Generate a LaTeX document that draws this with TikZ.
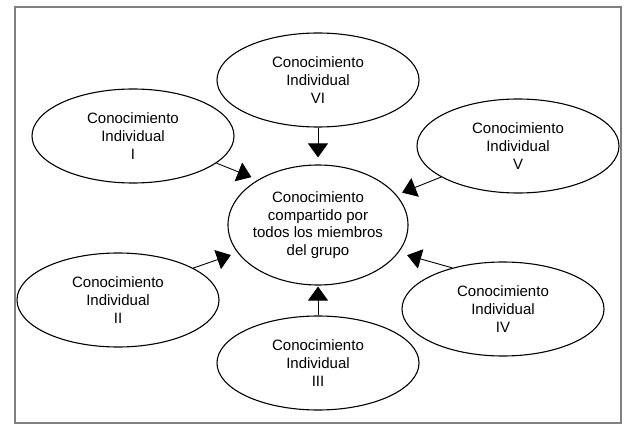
\documentclass[tikz,border=0pt]{standalone}
\usepackage{fontspec}
\setmainfont{Liberation Sans}
\usetikzlibrary{shapes.geometric,arrows.meta}
\begin{document}
\begin{tikzpicture}[x=1pt,y=-1pt,
  oval/.style={draw, ellipse, line width=1.1pt, inner sep=-6pt, align=center,
    minimum width=202pt, minimum height=94pt,
    font=\fontsize{15}{17.7}\selectfont},
  arr/.style={line width=0.9pt, -{Triangle[length=14pt,width=20pt]}}]
\useasboundingbox (0,0) rectangle (624,425);
% outer frame
\draw[gray, line width=2pt] (15,7) rectangle (621,423);
% shared knowledge in the middle
\node[oval, minimum width=180pt, minimum height=120pt] (C) at (318,225)
  {Conocimiento\\compartido por\\todos los miembros\\del grupo};
% individual knowledge around it
\node[oval] (VI)  at (318,80)  {Conocimiento\\Individual\\VI};
\node[oval] (I)   at (133,136) {Conocimiento\\Individual\\I};
\node[oval] (V)   at (518,146) {Conocimiento\\Individual\\V};
\node[oval] (II)  at (118,300) {Conocimiento\\Individual\\II};
\node[oval] (IV)  at (503,309) {Conocimiento\\Individual\\IV};
\node[oval] (III) at (318,363) {Conocimiento\\Individual\\III};
% contributions toward the shared knowledge
\draw[arr, shorten >=7pt] (VI) -- (C);
\draw[arr, shorten >=1pt] (III) -- (C);
\draw[arr, shorten >=7pt] (I.-18) -- (C.143);
\draw[arr, shorten >=6pt] (V.202) -- (C.21);
\draw[arr, shorten >=7pt] (II.23) -- (C.199);
\draw[arr, shorten >=9pt] (IV.141) -- (C.-19);
\end{tikzpicture}
\end{document}
